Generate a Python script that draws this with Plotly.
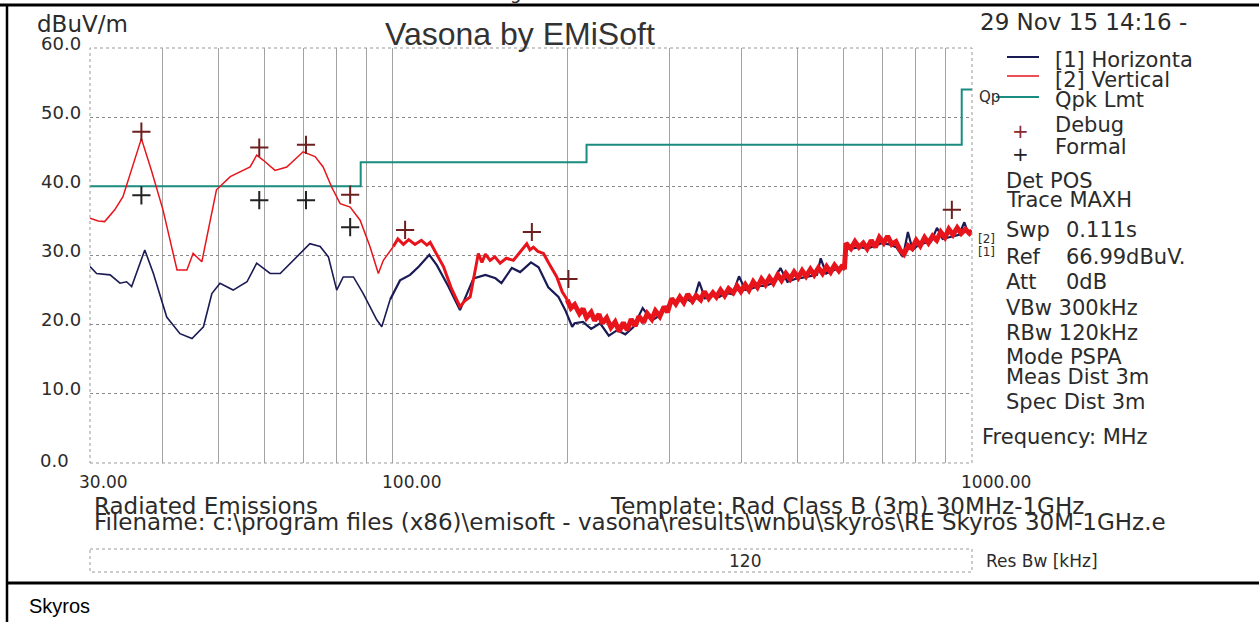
import math
import plotly.graph_objects as go

# ---------------- data ----------------
limit_freq = [30, 88, 216, 960, 1000]
limit_level = [40.0, 43.5, 46.0, 54.0, 54.0]

horiz_freq = [30.0, 30.8, 32.5, 33.8, 34.7, 35.4, 37.3, 38.6, 40.7, 42.9, 45.0, 47.1, 48.7, 50.3,
              53.0, 56.0, 58.2, 61.4, 63.9, 68.3, 71.9, 74.9, 77.4, 80.0, 82.1, 85.5, 88.9, 93.8,
              95.7, 98.9, 102.9, 107.1, 110.9, 115.6, 119.1, 124.6, 130.6, 137.8, 144.5, 150.4,
              154.0, 160.5, 165.9, 173.2, 178.5, 185.5, 193.2, 198.5,
              204, 206, 213, 220, 228, 236, 244, 252, 260, 270, 280, 290, 300, 310, 320, 330, 338,
              346, 356, 366, 376, 386, 396, 406, 416, 428, 440, 452, 467, 480, 495, 510, 525, 540,
              548, 560, 575, 590, 600, 606, 620, 640, 660, 680, 700, 720, 740, 760, 775, 790, 810,
              830, 850, 870, 890, 910, 930, 950, 970, 985, 1000]
horiz_level = [28.4, 27.4, 27.2, 26.0, 26.2, 25.5, 30.8, 27.4, 21.1, 18.7, 18.0, 19.7, 24.5, 26.0,
               25.0, 26.2, 28.9, 27.4, 27.4, 29.8, 31.7, 31.3, 29.8, 25.0, 26.9, 26.9, 24.5, 20.7,
               19.7, 23.6, 26.4, 27.2, 28.4, 30.1, 28.6, 25.6, 22.1, 26.7, 27.2, 26.7,
               26.0, 28.2, 27.6, 29.0, 28.3, 25.4, 24.0, 22.1,
               19.7, 20.2, 20.4, 19.4, 20.2, 18.4, 19.2, 18.6, 19.6, 22.4, 20.6, 21.4, 23.0, 23.4,
               23.8, 23.2, 26.2, 23.8, 24.2, 24.0, 24.6, 24.4, 27.0, 25.0, 25.2, 25.6, 25.6, 26.0,
               28.2, 26.2, 26.6, 26.8, 27.0, 27.2, 29.6, 27.4, 27.8, 28.2, 28.0, 31.0, 31.0, 31.2,
               31.0, 31.4, 31.8, 31.6, 31.2, 29.8, 33.4, 30.8, 31.6, 31.8, 32.0, 34.0, 32.4, 32.6,
               32.8, 33.0, 34.8, 33.2, 33.4]

vert_freq = [30.0, 31.0, 31.8, 33.1, 34.2, 35.2, 36.8, 38.3, 40.1, 42.4, 44.1, 45.2, 46.8, 49.6,
             52.4, 56.7, 58.2, 59.7, 62.6, 65.6, 70.0, 73.4, 75.8, 78.4, 81.1, 84.4, 87.8, 91.3,
             94.4, 96.3, 100.2,
             102.0, 104.3, 106.5, 109.2, 112.0, 114.5, 116.0, 119.0, 122.3, 126.0, 130.6, 133.0,
             136.0, 140.5, 142.5, 144.5, 147.2, 150.0, 153.2, 157.0, 161.5, 165.5, 170.3, 172.5,
             174.9, 178.0, 182.0, 187.0, 191.9, 196.0, 200.0,
             203, 206, 210, 213, 216, 220, 223, 227, 230, 234, 238, 242, 246, 250, 254, 258, 262,
             266, 271, 275, 280, 284, 289, 294, 298, 303, 308, 313, 318, 323, 329, 334, 340, 345,
             351, 357, 362, 368, 374, 380, 387, 393, 399, 406, 412, 419, 426, 433, 440, 447, 454,
             462, 469, 477, 485, 493, 501, 509, 517, 526, 534, 543, 552, 561, 570, 579, 589, 598,
             602, 606, 618, 628, 638, 649, 659, 670, 681, 692, 704, 715, 727, 739, 751, 763, 776,
             788, 801, 814, 828, 841, 855, 869, 883, 898, 912, 927, 943, 958, 974, 990, 1000]
vert_level = [35.4, 35.0, 34.9, 36.6, 38.5, 41.9, 46.9, 42.3, 36.6, 27.9, 27.9, 30.3, 29.1, 39.5,
              41.4, 42.8, 44.5, 43.8, 42.3, 42.8, 45.0, 44.3, 42.8, 39.9, 37.5, 37.0, 35.1, 31.3,
              27.4, 29.3, 31.3,
              32.4, 31.6, 32.3, 31.6, 32.2, 31.5, 31.9, 30.2, 28.4, 25.4, 22.6, 23.4,
              24.0, 30.3, 29.0, 30.2, 29.3, 29.8, 28.9, 29.6, 29.3, 30.4, 31.7, 30.8,
              31.2, 30.6, 30.3, 28.5, 26.9, 24.8, 23.6,
              22.4, 22.9, 21.6, 22.3, 21.0, 21.8, 20.6, 21.5, 20.2, 21.0, 19.6, 20.4, 19.0, 20.3,
              19.2, 20.8, 19.8, 21.2, 20.3, 21.6, 20.8, 22.0, 21.2, 22.6, 21.8, 23.8, 23.0, 24.0,
              23.2, 24.4, 23.4, 24.2, 23.6, 24.8, 23.8, 24.6, 24.0, 25.0, 24.2, 25.2, 24.6, 25.6,
              24.8, 25.8, 25.0, 26.2, 25.4, 26.6, 25.8, 26.8, 26.0, 27.2, 26.4, 27.4, 26.6, 27.6,
              26.8, 27.8, 27.0, 28.0, 27.2, 28.2, 27.4, 28.4, 27.6, 28.6, 27.8, 28.6,
              28.0, 31.8, 31.0, 32.0, 31.2, 31.8, 31.0, 32.2, 31.2, 32.6, 31.8, 32.8, 31.6, 32.0,
              30.8, 30.2, 31.4, 31.0, 32.2, 31.4, 32.6, 31.8, 32.8, 32.2, 33.4, 32.6, 33.8, 33.0,
              34.0, 33.2, 33.8, 33.2, 33.6]

debug_freq = [36.8, 58.8, 70.8, 84.4, 105.0, 173.8, 201.0, 923.0]
debug_level = [47.9, 45.6, 46.0, 38.8, 33.7, 33.4, 26.6, 36.6]
formal_freq = [36.8, 58.8, 70.8, 84.4]
formal_level = [38.7, 38.0, 38.0, 34.1]

y_ticks = [0, 10, 20, 30, 40, 50, 60]
y_tick_text = ["0.0", "10.0", "20.0", "30.0", "40.0", "50.0", "60.0"]
x_grid = [30, 40, 50, 60, 70, 80, 90, 100, 200, 300, 400, 500, 600, 700, 800, 900, 1000]
x_tick_vals = [30, 100, 1000]
x_tick_text = ["30.00", "100.00", "1000.00"]

info_keys = ["Det POS", "Trace MAXH", "Swp", "Ref", "Att", "VBw 300kHz", "RBw 120kHz",
             "Mode PSPA", "Meas Dist 3m", "Spec Dist 3m"]
info_vals = ["", "", "0.111s", "66.99dBuV.", "0dB", "", "", "", "", ""]

# ---------------- layout helpers ----------------
W, H = 1259, 622
L, R, T, B = 90, 972, 48, 463
FONT = "DejaVu Sans, Verdana, sans-serif"
TFONT = "Liberation Sans, Arial, sans-serif"
TXT = "#2b2b2b"


def px(x):
    return (x - L) / (R - L)


def py(y):
    return (B - y) / (B - T)


def xpix(f):
    return L + (math.log10(f) - math.log10(30)) / (math.log10(1000) - math.log10(30)) * (R - L)


def split(fr, lv, lo, hi):
    xs, ys = [], []
    for f, v in zip(fr, lv):
        if lo <= f <= hi:
            xs.append(f)
            ys.append(v)
    return xs, ys


NAVY = "#1a1a55"
RED = "#e8141c"
TEAL = "#1a8c80"

fig = go.Figure()
fig.add_trace(go.Scatter(x=limit_freq, y=limit_level, mode="lines", line=dict(color=TEAL, width=2, shape="hv"),
                         hoverinfo="skip"))
hx, hy = split(horiz_freq, horiz_level, 0, 100)
fig.add_trace(go.Scatter(x=hx, y=hy, mode="lines", line=dict(color=NAVY, width=1.6)))
hx, hy = split(horiz_freq, horiz_level, 98, 1000)
fig.add_trace(go.Scatter(x=hx, y=hy, mode="lines", line=dict(color=NAVY, width=2.2)))
vx, vy = split(vert_freq, vert_level, 0, 100.2)
fig.add_trace(go.Scatter(x=vx, y=vy, mode="lines", line=dict(color=RED, width=1.5)))
vx, vy = split(vert_freq, vert_level, 100.2, 200)
fig.add_trace(go.Scatter(x=vx, y=vy, mode="lines", line=dict(color=RED, width=3)))
vx, vy = split(vert_freq, vert_level, 200, 1000)
fig.add_trace(go.Scatter(x=vx, y=vy, mode="lines", line=dict(color=RED, width=5)))
fig.add_trace(go.Scatter(x=debug_freq, y=debug_level, mode="markers",
                         marker=dict(symbol="cross-thin", size=13, line=dict(color="#6e2020", width=2))))
fig.add_trace(go.Scatter(x=formal_freq, y=formal_level, mode="markers",
                         marker=dict(symbol="cross-thin", size=13, line=dict(color="#222222", width=2))))

ann = []


def text(s, x, y, size=22, anchor="left", color=TXT, family=FONT):
    ann.append(dict(text=s, x=px(x), y=py(y), xref="paper", yref="paper", xanchor=anchor,
                    yanchor="middle", showarrow=False, font=dict(family=family, size=size, color=color)))


# axis labels
for v, t in zip(y_ticks, y_tick_text):
    ypix = B - v * (B - T) / 60.0
    if v == 0:
        text(t, 71, ypix - 3, 18, "right")
    else:
        text(t, 83, ypix - 5, 18, "right")
for v, t in zip(x_tick_vals, x_tick_text):
    text(t, xpix(v) - 13, 482, 17)
text("dBuV/m", 35, 24, 23)
text("Vasona by EMiSoft", 520, 34, 32, "center", "#333333", TFONT)
text("29 Nov 15 14:16 -", 978, 22, 23)
text("g", 515, -7, 18, "center")

# legend
text("[1] Horizonta", 1053, 60, 21)
text("[2] Vertical", 1053, 80, 21)
text("Qpk Lmt", 1053, 100, 21)
text("Debug", 1053, 125, 21)
text("Formal", 1053, 147, 21)
text("Qp", 977, 97, 15)
text("+", 1020, 131, 20, "center", "#8a2a2a")
text("+", 1020, 154, 20, "center", "#222222")
info_y = [181, 200, 230, 257, 282, 308, 333, 357, 377, 402]
for k, v, yy in zip(info_keys, info_vals, info_y):
    text(k, 1004, yy, 21)
    if v:
        text(v, 1064, yy, 21)
text("Frequency: MHz", 980, 437, 21)
text("[2]", 976, 239, 12)
text("[1]", 976, 252, 12)

# bottom texts
text("Radiated Emissions", 92, 506, 23)
text("Template: Rad Class B (3m) 30MHz-1GHz", 608, 506, 23)
text("Filename: c:\\program files (x86)\\emisoft - vasona\\results\\wnbu\\skyros\\RE Skyros 30M-1GHz.e",
     92, 522, 23)
text("120", 727, 561, 17)
text("Res Bw [kHz]", 984, 561, 17)
text("Skyros", 27, 606, 20, "left", "#000000", TFONT)

shapes = [
    dict(type="line", xref="paper", yref="paper", x0=px(0), x1=px(W), y0=py(5), y1=py(5),
         line=dict(color="black", width=3)),
    dict(type="line", xref="paper", yref="paper", x0=px(7), x1=px(7), y0=py(4), y1=py(H),
         line=dict(color="black", width=2.5)),
    dict(type="line", xref="paper", yref="paper", x0=px(7), x1=px(W), y0=py(583), y1=py(583),
         line=dict(color="black", width=3)),
    dict(type="rect", xref="paper", yref="paper", x0=px(90), x1=px(972), y0=py(549), y1=py(572),
         line=dict(color="#9a9a9a", width=1, dash="dot")),
    dict(type="rect", xref="paper", yref="paper", x0=0, x1=1, y0=0, y1=1,
         line=dict(color="#999999", width=1, dash="dot")),
    dict(type="line", xref="paper", yref="paper", x0=px(1007), x1=px(1039), y0=py(57), y1=py(57),
         line=dict(color=NAVY, width=2)),
    dict(type="line", xref="paper", yref="paper", x0=px(1007), x1=px(1039), y0=py(76), y1=py(76),
         line=dict(color=RED, width=1.5)),
    dict(type="line", xref="paper", yref="paper", x0=px(996), x1=px(1039), y0=py(97), y1=py(97),
         line=dict(color=TEAL, width=2)),
]

fig.update_layout(
    width=W, height=H,
    margin=dict(l=L, r=W - R, t=T, b=H - B),
    paper_bgcolor="white", plot_bgcolor="white",
    showlegend=False,
    annotations=ann, shapes=shapes,
    xaxis=dict(type="log", range=[math.log10(30), math.log10(1000)], tickvals=x_grid,
               showticklabels=False, ticks="", showgrid=True, gridcolor="#a3a3a3", gridwidth=1,
               zeroline=False, showline=False, fixedrange=True),
    yaxis=dict(range=[0, 60], tickvals=y_ticks, showticklabels=False, ticks="", showgrid=True,
               gridcolor="#8a8a8a", griddash="dot", gridwidth=1, zeroline=False, showline=False,
               fixedrange=True),
)

fig.write_html("out.html", config={"displayModeBar": False},
               post_script="document.body.style.margin='0px';document.body.style.overflow='hidden';")
